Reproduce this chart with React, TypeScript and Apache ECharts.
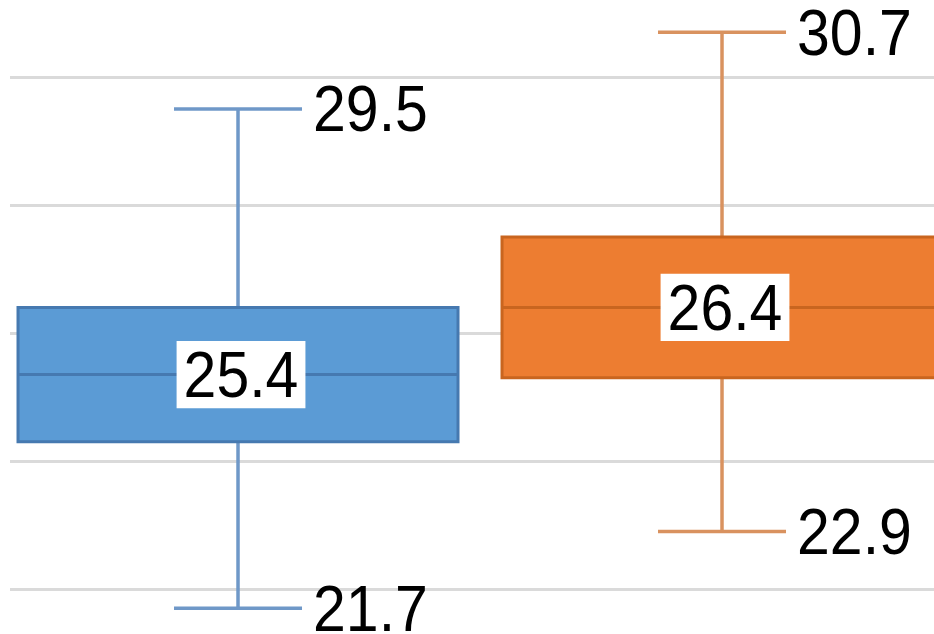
import React, { useEffect, useRef } from "react";
import * as echarts from "echarts";

// Box plot statistics
const seriesNames = ["Series 1", "Series 2"];
const minValues = [21.7, 22.9];
const q1Values = [24.3, 25.3];
const medianValues = [25.35, 26.4];
const q3Values = [26.4, 27.5];
const maxValues = [29.5, 30.7];

// Y axis gridlines
const yMin = 20;
const yMax = 32;
const yInterval = 2;

const fillColors = ["#5B9BD5", "#ED7D31"];
const borderColors = ["#4679B0", "#C9651F"];
const whiskerColors = ["#6F98C8", "#D9925F"];

const FONT = "'Liberation Sans', Arial, sans-serif";

export default function App() {
  const ref = useRef<HTMLDivElement>(null);

  useEffect(() => {
    if (!ref.current) return;
    const chart = echarts.init(ref.current, null, { renderer: "svg" });

    const data = seriesNames.map((_, i) => [
      i,
      minValues[i],
      q1Values[i],
      medianValues[i],
      q3Values[i],
      maxValues[i],
    ]);

    const renderItem = (params: any, api: any) => {
      const i = api.value(0);
      const pMin = api.coord([i, api.value(1)]);
      const pQ1 = api.coord([i, api.value(2)]);
      const pMed = api.coord([i, api.value(3)]);
      const pQ3 = api.coord([i, api.value(4)]);
      const pMax = api.coord([i, api.value(5)]);
      const cx = pMed[0];
      const boxW = 440;
      const capW = 128;
      const wStyle = { stroke: whiskerColors[i], lineWidth: 3.5 };
      const label = (text: string, x: number, y: number, align: string, bg: boolean) => ({
        type: "text",
        x,
        y,
        scaleY: 1.1,
        z2: 20,
        style: {
          text,
          fontSize: 59,
          fontFamily: FONT,
          fill: "#000",
          align,
          verticalAlign: "middle",
          lineHeight: 59,
          backgroundColor: bg ? "#fff" : undefined,
          padding: bg ? [1, 7] : 0,
        },
      });
      return {
        type: "group",
        children: [
          { type: "line", shape: { x1: cx, y1: pMax[1], x2: cx, y2: pQ3[1] }, style: wStyle },
          { type: "line", shape: { x1: cx, y1: pQ1[1], x2: cx, y2: pMin[1] }, style: wStyle },
          { type: "line", shape: { x1: cx - capW / 2, y1: pMax[1], x2: cx + capW / 2, y2: pMax[1] }, style: wStyle },
          { type: "line", shape: { x1: cx - capW / 2, y1: pMin[1], x2: cx + capW / 2, y2: pMin[1] }, style: wStyle },
          {
            type: "rect",
            shape: { x: cx - boxW / 2, y: pQ3[1], width: boxW, height: pQ1[1] - pQ3[1] },
            style: { fill: fillColors[i], stroke: borderColors[i], lineWidth: 3 },
          },
          {
            type: "line",
            shape: { x1: cx - boxW / 2, y1: pMed[1], x2: cx + boxW / 2, y2: pMed[1] },
            style: { stroke: borderColors[i], lineWidth: 3 },
          },
          label(Number(api.value(3)).toFixed(1), cx + 3, pMed[1], "center", true),
          label(Number(api.value(5)).toFixed(1), cx + capW / 2 + 11, pMax[1], "left", false),
          label(Number(api.value(1)).toFixed(1), cx + capW / 2 + 11, pMin[1], "left", false),
        ],
      };
    };

    chart.setOption({
      animation: false,
      backgroundColor: "#fff",
      grid: { left: 10, right: 0, top: 0, bottom: 0, containLabel: false },
      xAxis: {
        type: "value",
        min: -0.4711,
        max: 1.438,
        show: false,
        splitLine: { show: false },
      },
      yAxis: {
        type: "value",
        min: yMin,
        max: yMax,
        interval: yInterval,
        axisLine: { show: false },
        axisTick: { show: false },
        axisLabel: { show: false },
        splitLine: { show: true, lineStyle: { color: "#DADADA", width: 3 } },
      },
      series: [
        {
          type: "custom",
          renderItem,
          data,
          clip: false,
          encode: { x: 0, y: [1, 2, 3, 4, 5] },
        },
      ],
    });

    return () => chart.dispose();
  }, []);

  return (
    <div style={{ position: "absolute", left: 0, top: 0, width: 934, height: 634, overflow: "hidden", background: "#fff" }}>
      <div ref={ref} style={{ position: "absolute", left: 0, top: -51, width: 934, height: 768 }} />
    </div>
  );
}
